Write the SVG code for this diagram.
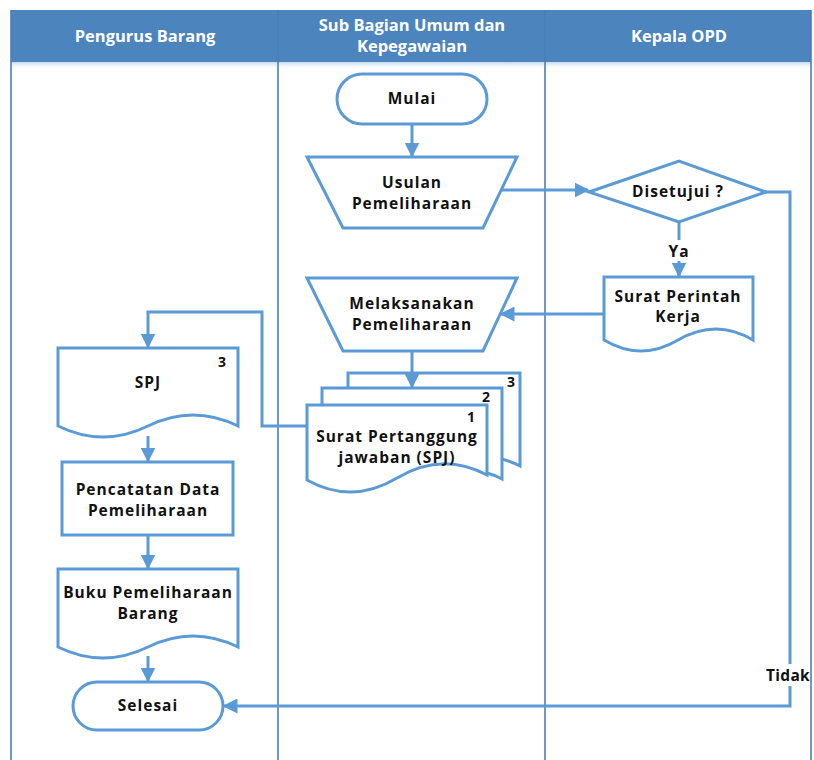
<svg xmlns="http://www.w3.org/2000/svg" width="814" height="760" viewBox="0 0 814 760">
  <style>
    .lane { fill: none; stroke: #4A7EBB; stroke-width: 1.6; }
    .hdr { fill: #4C84BE; }
    .hdr-t { font-family: "Open Sans", "Liberation Sans", sans-serif; font-weight: bold; font-size: 16.5px; fill: #ffffff; text-anchor: middle; }
    .shape { fill: #ffffff; stroke: #5B9BD5; stroke-width: 3; stroke-linejoin: miter; }
    .t { font-family: "Open Sans", "Liberation Sans", sans-serif; font-weight: bold; font-size: 15.5px; fill: #111111; text-anchor: middle; letter-spacing: 1px; }
    .num { font-family: "Open Sans", "Liberation Sans", sans-serif; font-weight: bold; font-size: 14px; fill: #111111; text-anchor: middle; }
    .conn { fill: none; stroke: #5B9BD5; stroke-width: 3; }
  </style>
  <defs>
    <marker id="arrow" viewBox="0 0 10 10" refX="9" refY="5" markerWidth="5" markerHeight="5" orient="auto" markerUnits="strokeWidth">
      <path d="M0,0 L10,5 L0,10 Z" fill="#5B9BD5"/>
    </marker>
    <linearGradient id="hdrShadow" x1="0" y1="0" x2="0" y2="1">
      <stop offset="0" stop-color="#C9D9EE"/>
      <stop offset="1" stop-color="#ffffff" stop-opacity="0"/>
    </linearGradient>
  </defs>

  <rect width="814" height="760" fill="#ffffff"/>

  <!-- swimlanes -->
  <g id="lanes">
    <rect class="hdr" x="11" y="10" width="800" height="52"/>
    <rect x="11" y="62" width="800" height="8" fill="url(#hdrShadow)"/>
    <line class="lane" x1="11" y1="10" x2="11" y2="760"/>
    <line class="lane" x1="278" y1="10" x2="278" y2="760"/>
    <line class="lane" x1="545" y1="10" x2="545" y2="760"/>
    <line class="lane" x1="811" y1="10" x2="811" y2="760"/>
    <text class="hdr-t" x="145" y="42">Pengurus Barang</text>
    <text class="hdr-t" x="412" y="31">Sub Bagian Umum dan</text>
    <text class="hdr-t" x="412" y="52">Kepegawaian</text>
    <text class="hdr-t" x="679" y="42">Kepala OPD</text>
  </g>

  <!-- nodes -->
  <g id="mulai">
    <rect class="shape" x="337" y="74" width="150" height="50" rx="25" ry="25"/>
    <text class="t" x="412" y="104">Mulai</text>
  </g>

  <g id="usulan">
    <path class="shape" d="M307,157 H517 L483,228 H343 Z"/>
    <text class="t" x="412" y="188">Usulan</text>
    <text class="t" x="412" y="209">Pemeliharaan</text>
  </g>

  <g id="disetujui">
    <path class="shape" d="M589,192 L679,161 L766,192 L679,222 Z"/>
    <text class="t" x="678" y="197">Disetujui ?</text>
  </g>

  <g id="surat-perintah">
    <path class="shape" d="M604,277 H753 V340 Q716,318 678,340 Q641,362 604,340 Z"/>
    <text class="t" x="678" y="302">Surat Perintah</text>
    <text class="t" x="678" y="322">Kerja</text>
  </g>

  <g id="melaksanakan">
    <path class="shape" d="M307,278 H517 L483,351 H343 Z"/>
    <text class="t" x="412" y="309">Melaksanakan</text>
    <text class="t" x="412" y="330">Pemeliharaan</text>
  </g>

  <g id="spj-sheets">
    <path class="shape" d="M348,388 V373 H520 V466 Q512,462 502,459"/>
    <text class="num" x="511" y="387">3</text>
    <path class="shape" d="M322,405 V388 H502 V479 Q495,475 487,473"/>
    <text class="num" x="486" y="402">2</text>
    <path class="shape" d="M307,405 H487 V475 Q442,451 397,478 Q352,505 307,480 Z"/>
    <text class="num" x="471" y="422">1</text>
    <text class="t" x="397" y="442">Surat Pertanggung</text>
    <text class="t" x="397" y="463">jawaban (SPJ)</text>
  </g>

  <g id="spj">
    <path class="shape" d="M58,348 H238 V426 Q193,404 148,426 Q103,448 58,426 Z"/>
    <text class="num" x="222" y="367">3</text>
    <text class="t" x="148" y="388">SPJ</text>
  </g>

  <g id="pencatatan">
    <rect class="shape" x="62" y="462" width="171" height="73"/>
    <text class="t" x="148" y="495">Pencatatan Data</text>
    <text class="t" x="148" y="516">Pemeliharaan</text>
  </g>

  <g id="buku">
    <path class="shape" d="M58,569 H238 V647 Q193,625 148,647 Q103,669 58,647 Z"/>
    <text class="t" x="148" y="598">Buku Pemeliharaan</text>
    <text class="t" x="148" y="619">Barang</text>
  </g>

  <g id="selesai">
    <rect class="shape" x="73" y="682" width="150" height="48" rx="24" ry="24"/>
    <text class="t" x="148" y="711">Selesai</text>
  </g>

  <!-- connectors -->
  <g id="connectors">
    <path class="conn" d="M412,124 V156" marker-end="url(#arrow)"/>
    <path class="conn" d="M501,190 H588" marker-end="url(#arrow)"/>
    <path class="conn" d="M679,222 V240"/>
    <path class="conn" d="M679,261 V276" marker-end="url(#arrow)"/>
    <path class="conn" d="M604,314 H501" marker-end="url(#arrow)"/>
    <path class="conn" d="M412,351 V387" marker-end="url(#arrow)"/>
    <path class="conn" d="M307,426 H262 V312 H148 V347" marker-end="url(#arrow)"/>
    <path class="conn" d="M148,436 V461" marker-end="url(#arrow)"/>
    <path class="conn" d="M148,535 V568" marker-end="url(#arrow)"/>
    <path class="conn" d="M148,656 V681" marker-end="url(#arrow)"/>
    <path class="conn" d="M766,192 H790 V706 H224" marker-end="url(#arrow)"/>
    <text class="t" x="679" y="257">Ya</text>
    <rect x="766" y="664" width="44" height="22" fill="#ffffff"/>
    <text class="t" x="788" y="681" style="letter-spacing:0.3px">Tidak</text>
  </g>
</svg>
